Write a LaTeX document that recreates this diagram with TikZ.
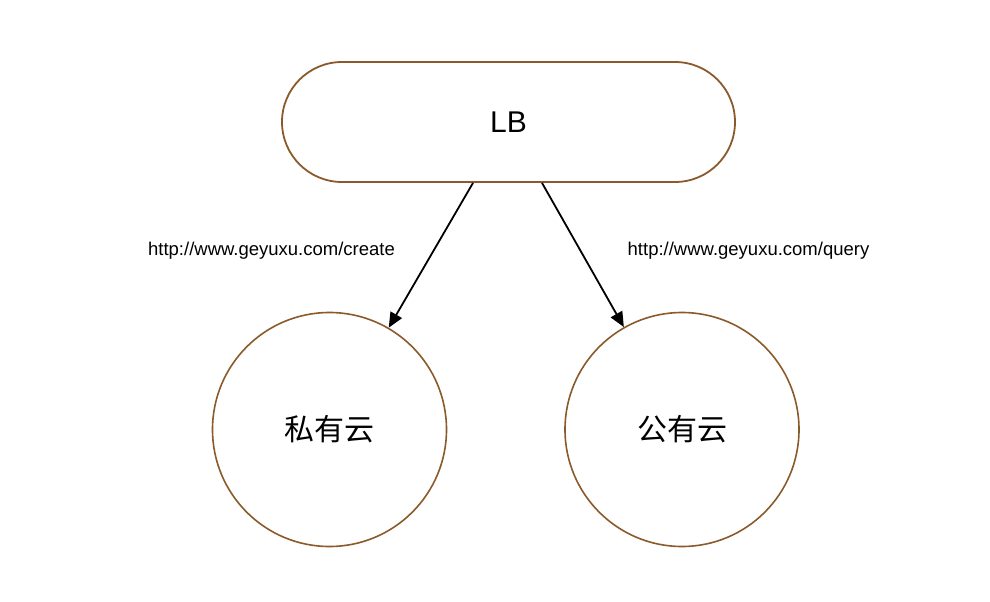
\documentclass[tikz,border=0pt]{standalone}
\usepackage{fontspec}
\setmainfont{Liberation Sans}
\newfontfamily\cjk{Noto Sans CJK SC}
\usetikzlibrary{shapes.misc,arrows.meta}
\definecolor{brownline}{RGB}{139,90,43}
\begin{document}
\begin{tikzpicture}[x=1pt,y=-1pt,
  pill/.style={rounded rectangle, draw=brownline, line width=1.8pt, fill=white,
    minimum width=453pt, minimum height=120pt, inner sep=0pt, font=\fontsize{30}{36}\selectfont},
  cloud/.style={circle, draw=brownline, line width=1.6pt, fill=white,
    minimum size=234pt, inner sep=0pt, font=\cjk\fontsize{30}{36}\selectfont},
  link/.style={line width=1.8pt, -{Triangle[length=15pt,width=13pt]}},
  url/.style={font=\fontsize{18.5}{22}\selectfont, inner sep=0pt}]
\useasboundingbox (0,0) rectangle (990,602);
\node[pill] (lb) at (508.5,122) {LB};
\node[cloud] (priv) at (329.5,429.5) {私有云};
\node[cloud] (pub) at (682,429.5) {公有云};
\coordinate (s1) at ([xshift=-35.5pt]lb.south);
\coordinate (s2) at ([xshift=33.5pt]lb.south);
\draw[link] (s1) -- (priv);
\draw[link] (s2) -- (pub);
\node[url] (l1) at (271.5,250.5) {http://www.geyuxu.com/create};
\node[url] (l2) at (748.5,250.5) {http://www.geyuxu.com/query};
\end{tikzpicture}
\end{document}
